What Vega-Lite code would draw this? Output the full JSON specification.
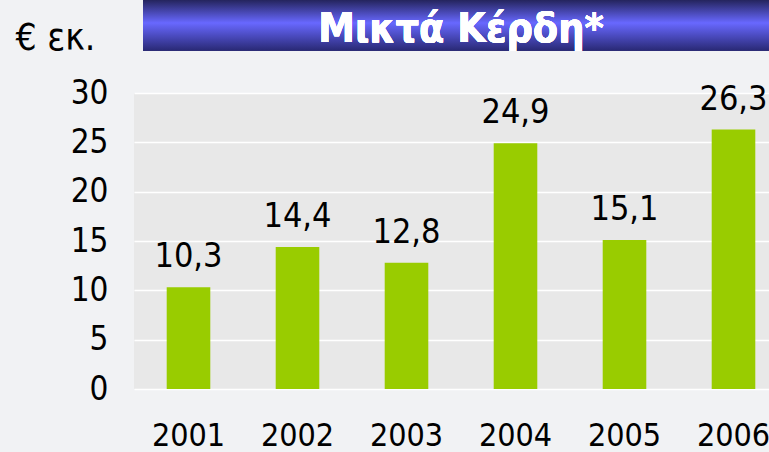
{
  "$schema": "https://vega.github.io/schema/vega-lite/v6.json",
  "autosize": "none",
  "width": 654,
  "height": 296,
  "padding": {"left": 134, "top": 93, "right": 0, "bottom": 63},
  "background": "#f1f2f4",
  "config": {
    "locale": {"number": {"decimal": ",", "thousands": ".", "grouping": [3], "currency": ["€", ""]}},
    "view": {"fill": "#e8e8e8", "stroke": null},
    "font": "DejaVu Sans Condensed"
  },
  "data": {"values": [
    {"year": "2001", "value": 10.3},
    {"year": "2002", "value": 14.4},
    {"year": "2003", "value": 12.8},
    {"year": "2004", "value": 24.9},
    {"year": "2005", "value": 15.1},
    {"year": "2006", "value": 26.3}
  ]},
  "encoding": {
    "x": {
      "field": "year", "type": "ordinal",
      "scale": {"paddingInner": 0.6, "paddingOuter": 0.3},
      "axis": {"title": null, "labelAngle": 0, "labelFontSize": 32, "labelColor": "#000", "labelPadding": 31, "domain": false, "ticks": false, "labelFont": "DejaVu Sans Condensed"}
    },
    "y": {
      "field": "value", "type": "quantitative",
      "scale": {"domain": [0, 30]},
      "axis": {
        "values": [0, 5, 10, 15, 20, 25, 30],
        "title": "€ εκ.", "titleAngle": 0, "titleAlign": "left", "titleBaseline": "alphabetic",
        "titleX": -119, "titleY": -44, "titleFontSize": 37, "titleFontWeight": "normal", "titleColor": "#000", "titleFont": "DejaVu Sans Condensed",
        "labelFontSize": 33, "labelColor": "#000", "labelPadding": 26, "labelFont": "DejaVu Sans Condensed",
        "domain": false, "ticks": false,
        "gridColor": "#ffffff", "gridWidth": 1.5, "gridOpacity": 1
      }
    }
  },
  "layer": [
    {
      "mark": {"type": "rect", "clip": false, "color": {"gradient": "linear", "x1": 0, "y1": 0, "x2": 0, "y2": 1, "stops": [
        {"offset": 0, "color": "#25255f"},
        {"offset": 0.45, "color": "#6868ff"},
        {"offset": 1, "color": "#292975"}
      ]}},
      "encoding": {
        "x": {"value": 9},
        "x2": {"value": {"expr": "width"}},
        "y": {"datum": 34.3},
        "y2": {"datum": 39.4}
      }
    },
    {
      "mark": {"type": "text", "clip": false, "color": "#ffffff", "fontSize": 41, "fontWeight": "bold", "font": "DejaVu Sans Condensed", "align": "center", "baseline": "alphabetic"},
      "encoding": {
        "x": {"value": {"expr": "width/2"}},
        "y": {"datum": 35.2},
        "text": {"value": "Μικτά Κέρδη*"}
      }
    },
    {
      "mark": {"type": "bar", "color": "#99cc00"}
    },
    {
      "mark": {"type": "text", "baseline": "bottom", "dy": -13, "fontSize": 34, "color": "#000", "font": "DejaVu Sans Condensed"},
      "encoding": {"text": {"field": "value", "type": "quantitative", "format": ".1f"}}
    }
  ]
}
